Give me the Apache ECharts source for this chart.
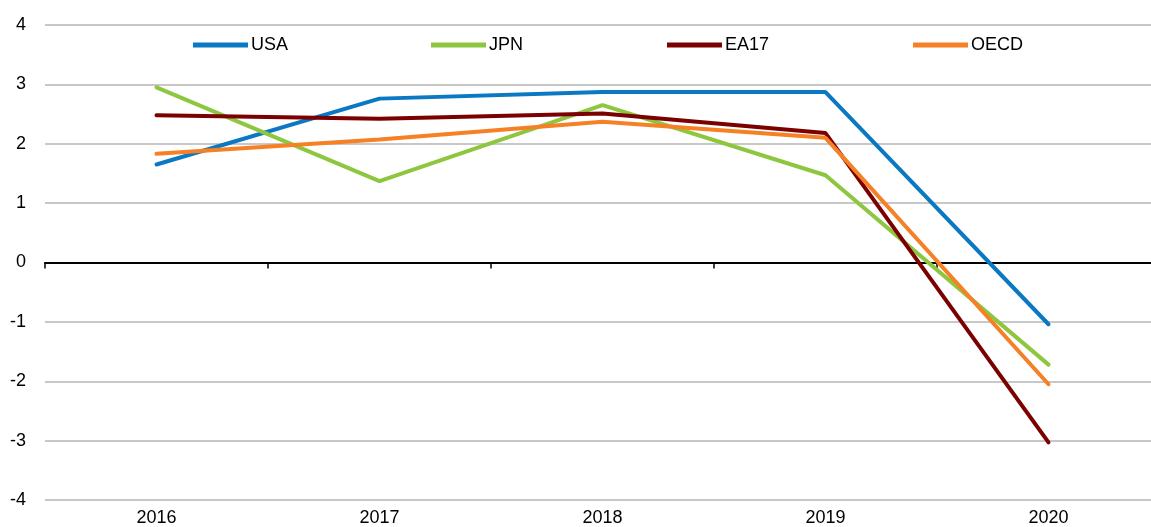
<!DOCTYPE html>
<html><head><meta charset="utf-8">
<script src="https://cdn.jsdelivr.net/npm/echarts@6/dist/echarts.min.js"></script>
<style>html,body{margin:0;padding:0;background:#fff}#c{width:1151px;height:527px}</style>
</head><body><div id="c"></div>
<script>
const categories = ['2016','2017','2018','2019','2020'];
const usa  = [1.65, 2.76, 2.87, 2.87, -1.04];
const jpn  = [2.95, 1.37, 2.65, 1.47, -1.72];
const ea17 = [2.48, 2.42, 2.51, 2.18, -3.03];
const oecd = [1.83, 2.07, 2.37, 2.10, -2.05];
const seriesNames = ['USA','JPN','EA17','OECD'];
const seriesData = [usa, jpn, ea17, oecd];
const colors = ['#0A78C2','#8DC63F','#7B0000','#F58025'];
const legendLeft = [188, 426, 662, 908];
const font = "'Liberation Sans Narrow','Arial Narrow','Liberation Sans',Arial,sans-serif";

const chart = echarts.init(document.getElementById('c'), null, {renderer:'canvas'});
chart.setOption({
  animation:false,
  backgroundColor:'#fff',
  textStyle:{fontFamily:font},
  grid:{left:45, width:1115, top:25, bottom:27, containLabel:false, outerBoundsMode:'none'},
  legend: seriesNames.map((n,i)=>({
    data:[n], left:legendLeft[i], top:31, itemWidth:55, itemHeight:5, icon:'rect',
    textStyle:{fontFamily:font, fontSize:18, color:'#000', padding:[0,0,0,-2]},
    itemStyle:{borderWidth:0}
  })),
  xAxis:[
    {type:'category', data:categories, position:'bottom', boundaryGap:true,
     axisLine:{show:false, onZero:false}, axisTick:{show:false},
     axisLabel:{fontFamily:font, fontSize:18, color:'#000', margin:9}},
    {type:'category', data:categories, position:'bottom', boundaryGap:true,
     axisLine:{show:true, onZero:true, lineStyle:{color:'#000', width:2}},
     axisTick:{show:true, inside:false, length:6, lineStyle:{color:'#000', width:1.5}},
     axisLabel:{show:false}}
  ],
  yAxis:{type:'value', min:-4, max:4, interval:1,
    axisLine:{show:false}, axisTick:{show:false},
    axisLabel:{fontFamily:font, fontSize:18, color:'#000', margin:19},
    splitLine:{lineStyle:{color:'#c8c8c8', width:2}}},
  series: seriesNames.map((n,i)=>({
    name:n, type:'line', data:seriesData[i], xAxisIndex:0,
    symbol:'none', lineStyle:{color:colors[i], width:4, cap:'round'},
    itemStyle:{color:colors[i]}
  }))
});
</script></body></html>
